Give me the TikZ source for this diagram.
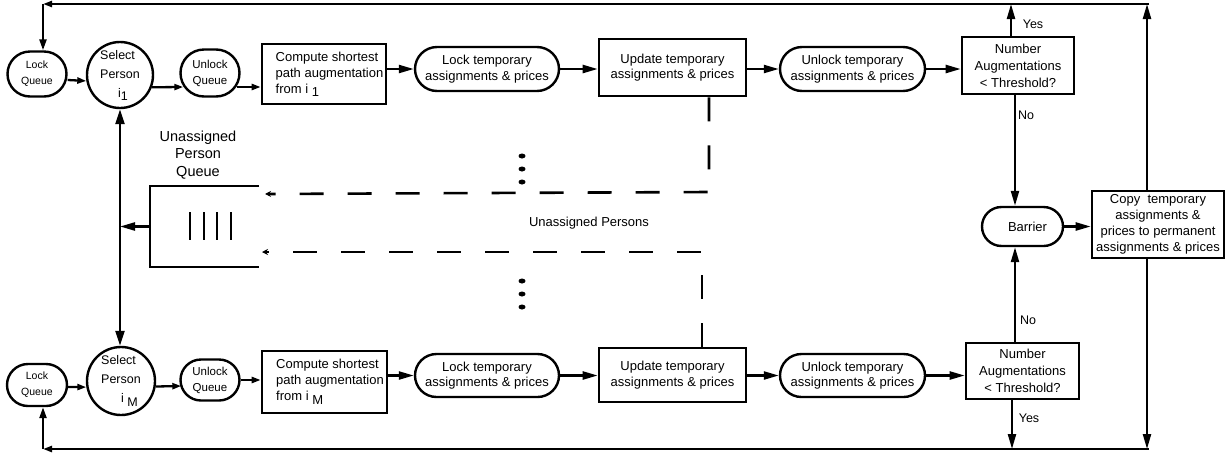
\documentclass[tikz,border=0pt]{standalone}
\usepackage{fontspec}
\setmainfont{Liberation Sans}
\usetikzlibrary{arrows.meta,shapes.misc}
\begin{document}
\begin{tikzpicture}[x=1pt,y=-1pt,
  every node/.style={font=\fontsize{13}{15.5}\selectfont, inner sep=0pt},
  rbox/.style={rounded rectangle, draw, line width=2.4pt, align=center},
  sbox/.style={rectangle, draw, line width=2.6pt, align=center},
  cbox/.style={circle, draw, line width=2.4pt, minimum size=66pt, align=left, font=\fontsize{12.5}{19}\selectfont},
  ln/.style={line width=2.3pt},
  arr/.style={ln, -{Triangle[length=15pt,width=8pt]}},
  marr/.style={ln, -{Triangle[length=11pt,width=7pt]}},
  sarr/.style={ln, -{Triangle[length=9pt,width=6pt]}},
  darr/.style={line width=2.6pt, dash pattern=on 24pt off 24pt, -{Stealth[length=6pt,width=6pt]}},
  lbl/.style={font=\fontsize{12.5}{15}\selectfont}
]
\useasboundingbox (0,0) rectangle (1232,456);

% ---- top row
\node[rbox, minimum width=59pt, minimum height=45pt, font=\fontsize{10.5}{16}\selectfont] (lq1) at (37,74) {Lock\\Queue};
\node[cbox] (sp1) at (120,75) {Select\\Person\\\hspace*{18pt}i\raisebox{-3pt}{1}};
\node[rbox, minimum width=59pt, minimum height=47pt, font=\fontsize{11.5}{16}\selectfont] (uq1) at (210,73) {Unlock\\Queue};
\node[sbox, minimum width=124pt, minimum height=60pt, align=left, font=\fontsize{13}{16}\selectfont] (cp1) at (324,74)
  {\hspace*{11pt}Compute shortest\\\hspace*{11pt}path augmentation\\\hspace*{11pt}from i \raisebox{-3pt}{1}};
\node[rbox, minimum width=144pt, minimum height=44pt] (lt1) at (487,69) {Lock temporary\\assignments \& prices};
\node[sbox, minimum width=147pt, minimum height=57pt] (up1) at (672.5,67.5) {Update temporary\\assignments \& prices};
\node[rbox, minimum width=145pt, minimum height=44pt] (ut1) at (852.5,69) {Unlock temporary\\assignments \& prices};
\node[sbox, minimum width=112pt, minimum height=57pt, font=\fontsize{13}{17}\selectfont] (dc1) at (1018,65.5) {Number\\Augmentations\\< Threshold?};

% ---- bottom row
\node[rbox, minimum width=60pt, minimum height=42pt, font=\fontsize{10.5}{16}\selectfont] (lq2) at (37,385) {Lock\\Queue};
\node[cbox, minimum size=68pt] (sp2) at (121,381) {Select\\Person\\\hspace*{20pt}i \raisebox{-4pt}{M}};
\node[rbox, minimum width=59pt, minimum height=41pt, font=\fontsize{11.5}{16}\selectfont] (uq2) at (210,380) {Unlock\\Queue};
\node[sbox, minimum width=125pt, minimum height=62pt, align=left, font=\fontsize{13}{16}\selectfont] (cp2) at (324.5,382)
  {\hspace*{11pt}Compute shortest\\\hspace*{11pt}path augmentation\\\hspace*{11pt}from i \raisebox{-4pt}{M}};
\node[rbox, minimum width=144pt, minimum height=43pt] (lt2) at (487,375.5) {Lock temporary\\assignments \& prices};
\node[sbox, minimum width=147pt, minimum height=54pt] (up2) at (672.5,375) {Update temporary\\assignments \& prices};
\node[rbox, minimum width=145pt, minimum height=43pt] (ut2) at (852.5,375.5) {Unlock temporary\\assignments \& prices};
\node[sbox, minimum width=113pt, minimum height=56pt, font=\fontsize{13}{17}\selectfont] (dc2) at (1022.5,371) {Number\\Augmentations\\< Threshold?};

% ---- right side
\node[rbox, minimum width=81pt, minimum height=39pt] (bar) at (1022.5,226.5) {\hspace*{10pt}Barrier};
\node[sbox, minimum width=132pt, minimum height=67pt, font=\fontsize{13}{16}\selectfont] (cpy) at (1158,224.5)
  {Copy\ \ temporary\\assignments \&\\prices to permanent\\assignments \& prices};

% ---- queue
\node[minimum width=109pt, minimum height=81pt] (q) at (204.5,226.5) {};
\draw[line width=2.4pt] (q.north east) -- (q.north west) -- (q.south west) -- (q.south east);
\foreach \x in {190,204,217,231} \draw[line width=2.4pt] (\x,212) -- (\x,240);
\node[font=\fontsize{14.5}{17.5}\selectfont, align=center] (ql) at (198,155) {Unassigned\\Person\\Queue};
\node (ua) at (589,223) {Unassigned Persons};

% ---- labels
\node[lbl] (y1) at (1033,24) {Yes};
\node[lbl] (n1) at (1026,115) {No};
\node[lbl] (n2) at (1028,320) {No};
\node[lbl] (y2) at (1029,418) {Yes};

% ---- top row arrows
\draw[sarr] ([yshift=-6pt]lq1.east) -- (sp1.190);
\draw[sarr] (sp1.339) -- ([xshift=4pt,yshift=-14pt]uq1.west);
\draw[sarr] ([xshift=-4pt,yshift=-14pt]uq1.east) -- ([yshift=-13pt]cp1.west);
\draw[arr] (cp1.east |- lt1.west) -- (lt1.west);
\draw[arr] (lt1.east) -- (lt1.east -| up1.west);
\draw[arr] (up1.east |- ut1.west) -- (ut1.west);
\draw[arr] (ut1.east) -- (ut1.east -| dc1.west);

% ---- bottom row arrows
\draw[sarr] ([yshift=-2pt]lq2.east) -- (sp2.190);
\draw[sarr] (sp2.351) -- ([xshift=2pt,yshift=-6pt]uq2.west);
\draw[sarr] (uq2.east) -- (uq2.east -| cp2.west);
\draw[arr] (cp2.east |- lt2.west) -- (lt2.west);
\draw[arr] (lt2.east) -- (lt2.east -| up2.west);
\draw[arr] (up2.east |- ut2.west) -- (ut2.west);
\draw[arr] (ut2.east) -- (ut2.east -| dc2.west);

% ---- select person link and queue
\draw[ln, {Triangle[length=15pt,width=9pt]}-{Triangle[length=15pt,width=9pt]}] (sp1.south) -- (sp1.south |- sp2.north);
\draw[arr] (q.west) -- (q.west -| sp1.south);

% ---- barrier
\coordinate (nox) at (1015,0);
\draw[arr] (dc1.south -| nox) -- (bar.north -| nox);
\draw[arr] (dc2.north -| nox) -- (bar.south -| nox);
\draw[arr] (bar.east) -- (bar.east -| cpy.west);

% ---- outer loops
\coordinate (TR) at (1147,4);
\coordinate (TL) at (43,4);
\coordinate (BR) at (1147,449);
\coordinate (BL) at (43,449);
\coordinate (yx1) at (1011,0);
\coordinate (yx2) at (1012,0);
\draw[arr] (dc1.north -| yx1) -- (TR -| yx1);
\draw[arr] (dc2.south -| yx2) -- (BR -| yx2);
\draw[arr] (cpy.north -| TR) -- (TR);
\draw[arr] (cpy.south -| BR) -- (BR);
\draw[sarr] ([xshift=2pt]TR) -- (TL);
\draw[marr] (TL) -- (lq1.north -| TL);
\draw[sarr] ([xshift=2pt]BR) -- (BL);
\draw[marr] (BL) -- (lq2.south -| BL);

% ---- dashed returns
\coordinate (d1) at (709,192);
\coordinate (d1e) at (265,194);
\draw[darr] (up1.south -| d1) -- (d1) -- (d1e);
\coordinate (d2) at (702,252);
\coordinate (d2e) at (262,252);
\draw[darr] (up2.north -| d2) -- (d2) -- (d2e);

% ---- ellipsis dots
\foreach \y in {156,169,182,281,294,307}
  \fill (522,\y) ellipse [x radius=3.5pt, y radius=2.5pt];
\end{tikzpicture}
\end{document}
